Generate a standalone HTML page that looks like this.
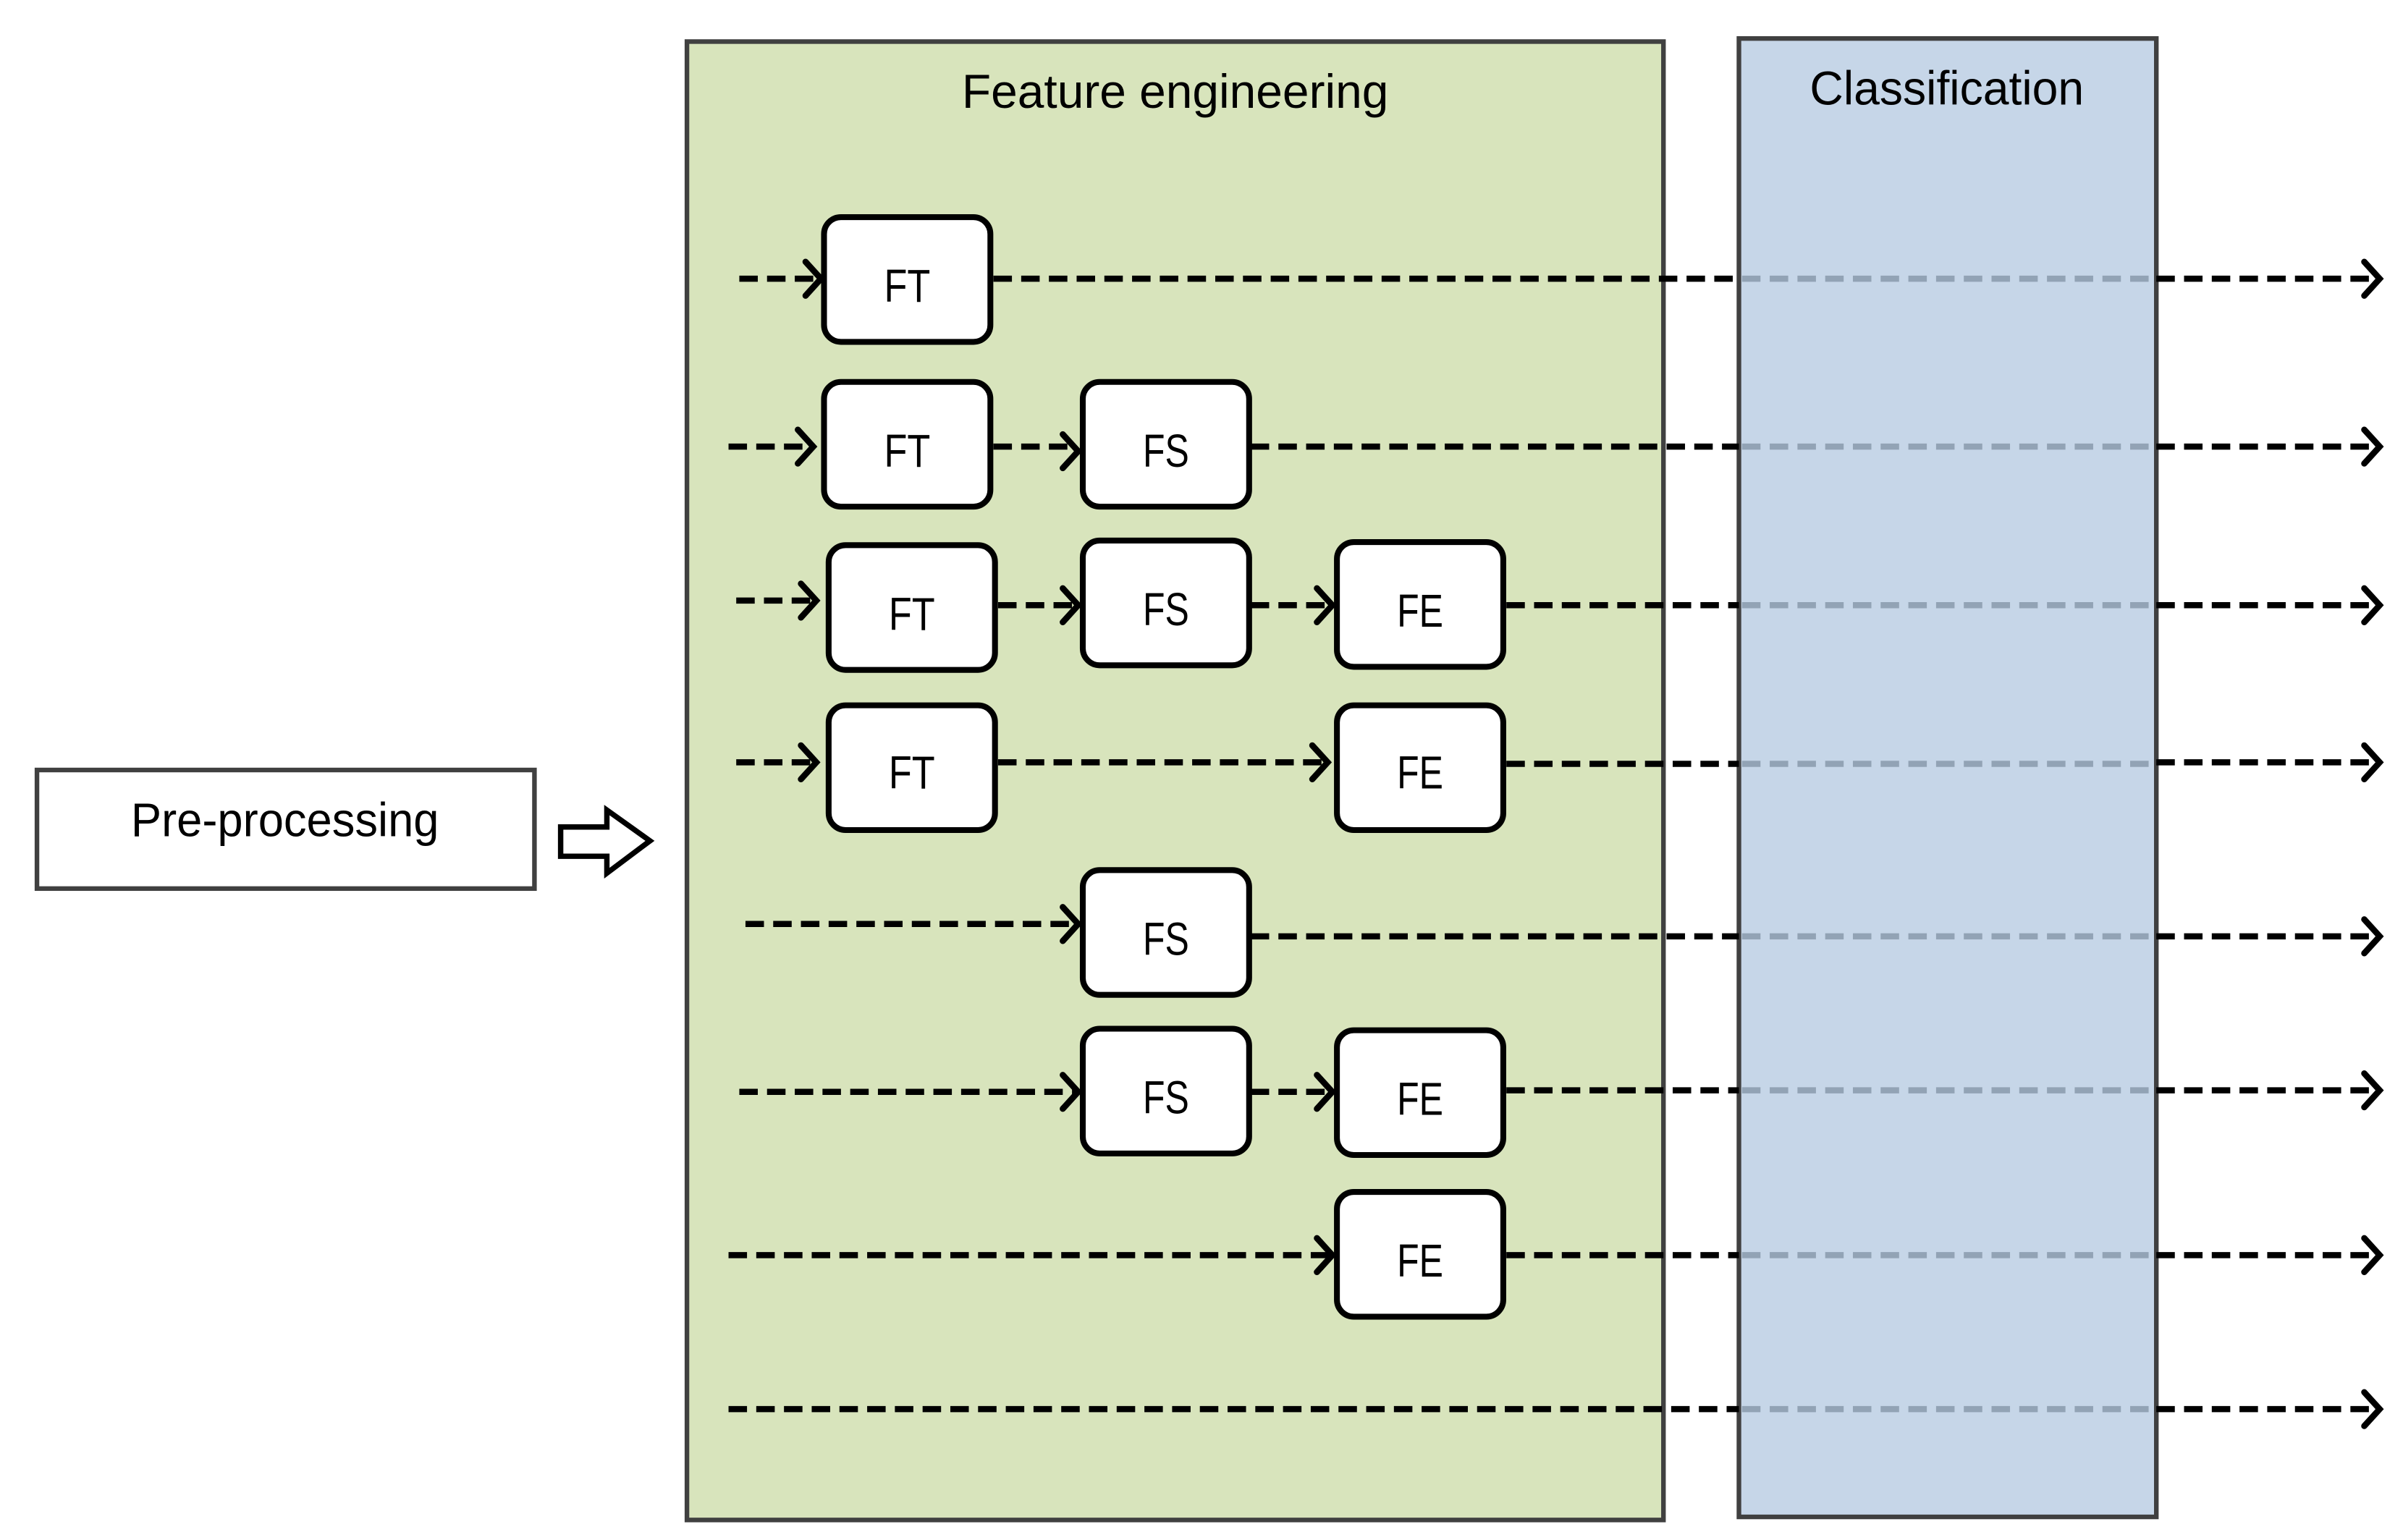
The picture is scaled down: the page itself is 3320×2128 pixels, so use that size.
<!DOCTYPE html>
<html><head><meta charset="utf-8"><style>
html,body{margin:0;padding:0;background:#fff;}
svg{display:block;}
text{font-family:"Liberation Sans",sans-serif;fill:#000;}
</style></head><body>
<svg width="3320" height="2128" viewBox="0 0 1560.15 1000" preserveAspectRatio="none" xmlns="http://www.w3.org/2000/svg">
<rect x="0" y="0" width="1561" height="1000" fill="#fff"/>
<rect x="446" y="27" width="634" height="960" fill="#d8e4bc" stroke="#404040" stroke-width="3"/>
<rect x="1129" y="25" width="271" height="960" fill="#c6d6e8" stroke="#404040" stroke-width="3"/>
<text x="763" y="70" text-anchor="middle" font-size="31" textLength="277" lengthAdjust="spacingAndGlyphs">Feature engineering</text>
<text x="1264" y="68" text-anchor="middle" font-size="31" textLength="178" lengthAdjust="spacingAndGlyphs">Classification</text>
<rect x="24" y="500" width="323" height="77" fill="#fff" stroke="#404040" stroke-width="3"/>
<text x="185" y="543" text-anchor="middle" font-size="31" textLength="200" lengthAdjust="spacingAndGlyphs">Pre-processing</text>
<polygon points="364,537 394,537 394,526 422,546 394,567 394,556 364,556" fill="#fff" stroke="#000" stroke-width="3.5"/>
<g fill="none" stroke-width="4" stroke-dasharray="12 6">
<g stroke="#000">
<line x1="480" y1="181" x2="531" y2="181"/>
<line x1="645" y1="181" x2="1129" y2="181"/>
<line x1="1400" y1="181" x2="1543" y2="181"/>
<line x1="473" y1="290" x2="526" y2="290"/>
<line x1="645" y1="290" x2="698" y2="290"/>
<line x1="812" y1="290" x2="1129" y2="290"/>
<line x1="1400" y1="290" x2="1543" y2="290"/>
<line x1="478" y1="390" x2="529" y2="390"/>
<line x1="648" y1="393" x2="698" y2="393"/>
<line x1="812" y1="393" x2="863" y2="393"/>
<line x1="978" y1="393" x2="1129" y2="393"/>
<line x1="1400" y1="393" x2="1543" y2="393"/>
<line x1="478" y1="495" x2="529" y2="495"/>
<line x1="648" y1="495" x2="860" y2="495"/>
<line x1="978" y1="496" x2="1129" y2="496"/>
<line x1="1400" y1="495" x2="1543" y2="495"/>
<line x1="484" y1="600" x2="698" y2="600"/>
<line x1="812" y1="608" x2="1129" y2="608"/>
<line x1="1400" y1="608" x2="1543" y2="608"/>
<line x1="480" y1="709" x2="698" y2="709"/>
<line x1="812" y1="709" x2="863" y2="709"/>
<line x1="978" y1="708" x2="1129" y2="708"/>
<line x1="1400" y1="708" x2="1543" y2="708"/>
<line x1="473" y1="815" x2="863" y2="815"/>
<line x1="978" y1="815" x2="1129" y2="815"/>
<line x1="1400" y1="815" x2="1543" y2="815"/>
<line x1="473" y1="915" x2="1129" y2="915"/>
<line x1="1400" y1="915" x2="1543" y2="915"/>
</g>
<g stroke="#92a3b5">
<line x1="1131" y1="181" x2="1398" y2="181"/>
<line x1="1131" y1="290" x2="1398" y2="290"/>
<line x1="1131" y1="393" x2="1398" y2="393"/>
<line x1="1131" y1="496" x2="1398" y2="496"/>
<line x1="1131" y1="608" x2="1398" y2="608"/>
<line x1="1131" y1="708" x2="1398" y2="708"/>
<line x1="1131" y1="815" x2="1398" y2="815"/>
<line x1="1131" y1="915" x2="1398" y2="915"/>
</g>
</g>
<g fill="none" stroke="#000" stroke-width="4" stroke-linecap="round" stroke-linejoin="miter">
<polyline points="523,170 533,181 523,192"/>
<polyline points="518,279 528,290 518,301"/>
<polyline points="520,379 530,390 520,401"/>
<polyline points="690,282 700,293 690,304"/>
<polyline points="690,382 700,393 690,404"/>
<polyline points="855,382 865,393 855,404"/>
<polyline points="520,484 530,495 520,506"/>
<polyline points="852,484 862,495 852,506"/>
<polyline points="690,589 700,600 690,611"/>
<polyline points="690,698 700,709 690,720"/>
<polyline points="855,698 865,709 855,720"/>
<polyline points="855,804 865,815 855,826"/>
<polyline points="1535,170 1545,181 1535,192"/>
<polyline points="1535,279 1545,290 1535,301"/>
<polyline points="1535,382 1545,393 1535,404"/>
<polyline points="1535,484 1545,495 1535,506"/>
<polyline points="1535,597 1545,608 1535,619"/>
<polyline points="1535,697 1545,708 1535,719"/>
<polyline points="1535,804 1545,815 1535,826"/>
<polyline points="1535,904 1545,915 1535,926"/>
</g>
<g fill="#fff" stroke="#000" stroke-width="3.8">
<rect x="535" y="141" width="108" height="81" rx="11"/>
<rect x="535" y="248" width="108" height="81" rx="11"/>
<rect x="703" y="248" width="108" height="81" rx="11"/>
<rect x="538" y="354" width="108" height="81" rx="11"/>
<rect x="703" y="351" width="108" height="81" rx="11"/>
<rect x="868" y="352" width="108" height="81" rx="11"/>
<rect x="538" y="458" width="108" height="81" rx="11"/>
<rect x="868" y="458" width="108" height="81" rx="11"/>
<rect x="703" y="565" width="108" height="81" rx="11"/>
<rect x="703" y="668" width="108" height="81" rx="11"/>
<rect x="868" y="669" width="108" height="81" rx="11"/>
<rect x="868" y="774" width="108" height="81" rx="11"/>
</g>
<g font-size="30" text-anchor="middle">
<text x="589" y="196" textLength="30" lengthAdjust="spacingAndGlyphs">FT</text>
<text x="589" y="303" textLength="30" lengthAdjust="spacingAndGlyphs">FT</text>
<text x="757" y="303" textLength="30" lengthAdjust="spacingAndGlyphs">FS</text>
<text x="592" y="409" textLength="30" lengthAdjust="spacingAndGlyphs">FT</text>
<text x="757" y="406" textLength="30" lengthAdjust="spacingAndGlyphs">FS</text>
<text x="922" y="407" textLength="30" lengthAdjust="spacingAndGlyphs">FE</text>
<text x="592" y="512" textLength="30" lengthAdjust="spacingAndGlyphs">FT</text>
<text x="922" y="512" textLength="30" lengthAdjust="spacingAndGlyphs">FE</text>
<text x="757" y="620" textLength="30" lengthAdjust="spacingAndGlyphs">FS</text>
<text x="757" y="723" textLength="30" lengthAdjust="spacingAndGlyphs">FS</text>
<text x="922" y="724" textLength="30" lengthAdjust="spacingAndGlyphs">FE</text>
<text x="922" y="829" textLength="30" lengthAdjust="spacingAndGlyphs">FE</text>
</g>
</svg>
</body></html>
